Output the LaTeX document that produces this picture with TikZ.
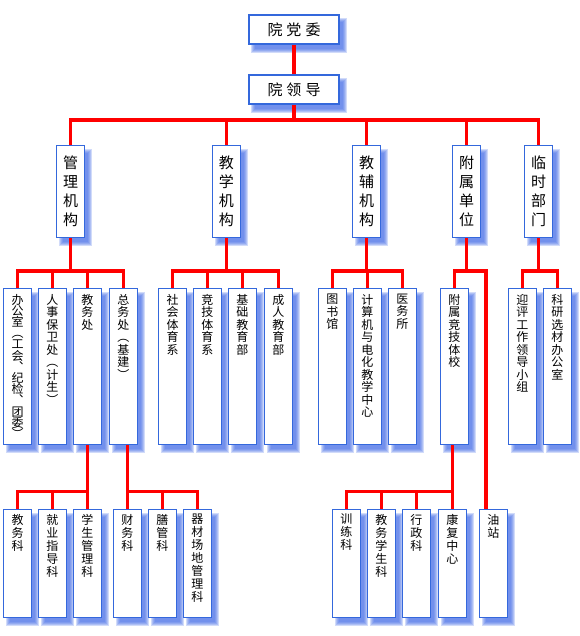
\documentclass[tikz,border=0pt]{standalone}
\usepackage{fontspec}
\newfontfamily\cjk{Noto Sans CJK SC}
\usetikzlibrary{calc}
\definecolor{boxblue}{RGB}{52,104,220}
\definecolor{shadowblue}{RGB}{70,110,230}
\definecolor{linered}{RGB}{255,0,0}
\pgfdeclarelayer{shadowlayer}
\pgfdeclarelayer{linelayer}
\pgfsetlayers{shadowlayer,linelayer,main}
\tikzset{
  orgbox/.style={draw=boxblue, line width=1.1pt, fill=white, inner sep=0pt, rectangle},
  toprow/.style={orgbox, minimum width=90pt, minimum height=29pt, font=\cjk\fontsize{15}{18}\selectfont},
  midcol/.style={orgbox, minimum width=27.6pt, minimum height=92pt, align=center, font=\cjk\fontsize{15}{18.7}\selectfont},
  lowcol/.style={orgbox, minimum width=28pt, minimum height=155.7pt},
  botcol/.style={orgbox, minimum width=28pt, minimum height=108pt},
  coltext/.style={anchor=north, inner sep=0pt, align=center, font=\cjk\fontsize{12}{12.5}\selectfont},
  tighttext/.style={coltext, font=\cjk\fontsize{12}{11.2}\selectfont},
  bottext/.style={coltext, font=\cjk\fontsize{12}{13}\selectfont},
  conn/.style={draw=linered, line width=3.6pt},
}
\begin{document}
\begin{tikzpicture}[x=1pt,y=-1pt]
\useasboundingbox (0,0) rectangle (579,636);

% level 0
\node[toprow] (dw) at (294,29.5) {院\hspace{4pt}党\hspace{4pt}委};
\node[toprow] (ld) at (294,89.5) {院\hspace{4pt}领\hspace{4pt}导};

% level 1
\node[midcol] (gl) at (70.5,191.3) {管\\理\\机\\构};
\node[midcol] (jx) at (226.3,191.3) {教\\学\\机\\构};
\node[midcol] (jf) at (366.5,191.3) {教\\辅\\机\\构};
\node[midcol] (fs) at (466.5,191.3) {附\\属\\单\\位};
\node[midcol] (ls) at (538.5,191.3) {临\\时\\部\\门};

% level 2
\node[lowcol] (a1) at (17.5,366.2) {};
\node[lowcol] (a2) at (52.3,366.2) {};
\node[lowcol] (a3) at (87.3,366.2) {};
\node[lowcol] (a4) at (123.3,366.2) {};
\node[lowcol] (b1) at (172.5,366.2) {};
\node[lowcol] (b2) at (207.3,366.2) {};
\node[lowcol] (b3) at (242.3,366.2) {};
\node[lowcol] (b4) at (278.3,366.2) {};
\node[lowcol] (c1) at (332.3,366.2) {};
\node[lowcol] (c2) at (367.3,366.2) {};
\node[lowcol] (c3) at (402.3,366.2) {};
\node[lowcol] (d1) at (454.3,366.2) {};
\node[lowcol] (e1) at (522.3,366.2) {};
\node[lowcol] (e2) at (557.3,366.2) {};

\node[tighttext] (ta1) at ($(a1.north)+(0,6)$) {办\\公\\室\\︵\\工\\会\\︑\\纪\\检\\︑\\团\\委\\︶};
\node[coltext] (ta2) at ($(a2.north)+(0,6)$) {人\\事\\保\\卫\\处\\︵\\计\\生\\︶};
\node[coltext] (ta3) at ($(a3.north)+(0,6)$) {教\\务\\处};
\node[coltext] (ta4) at ($(a4.north)+(0,6)$) {总\\务\\处\\︵\\基\\建\\︶};
\node[coltext] (tb1) at ($(b1.north)+(0,6)$) {社\\会\\体\\育\\系};
\node[coltext] (tb2) at ($(b2.north)+(0,6)$) {竞\\技\\体\\育\\系};
\node[coltext] (tb3) at ($(b3.north)+(0,6)$) {基\\础\\教\\育\\部};
\node[coltext] (tb4) at ($(b4.north)+(0,6)$) {成\\人\\教\\育\\部};
\node[coltext] (tc1) at ($(c1.north)+(0,6)$) {图\\书\\馆};
\node[coltext] (tc2) at ($(c2.north)+(0,6)$) {计\\算\\机\\与\\电\\化\\教\\学\\中\\心};
\node[coltext] (tc3) at ($(c3.north)+(0,6)$) {医\\务\\所};
\node[coltext] (td1) at ($(d1.north)+(0,6)$) {附\\属\\竞\\技\\体\\校};
\node[coltext] (te1) at ($(e1.north)+(0,6)$) {迎\\评\\工\\作\\领\\导\\小\\组};
\node[coltext] (te2) at ($(e2.north)+(0,6)$) {科\\研\\选\\材\\办\\公\\室};

% level 3
\node[botcol] (f1) at (17.5,563.3) {};
\node[botcol] (f2) at (52.3,563.3) {};
\node[botcol] (f3) at (87.3,563.3) {};
\node[botcol] (g1) at (127.3,563.3) {};
\node[botcol] (g2) at (162.3,563.3) {};
\node[botcol] (g3) at (197.3,563.3) {};
\node[botcol] (h1) at (346.3,563.3) {};
\node[botcol] (h2) at (381.3,563.3) {};
\node[botcol] (h3) at (416.3,563.3) {};
\node[botcol] (h4) at (452.3,563.3) {};
\node[botcol] (oil) at (493.3,563.3) {};

\node[bottext] (tf1) at ($(f1.north)+(0,5)$) {教\\务\\科};
\node[bottext] (tf2) at ($(f2.north)+(0,5)$) {就\\业\\指\\导\\科};
\node[bottext] (tf3) at ($(f3.north)+(0,5)$) {学\\生\\管\\理\\科};
\node[bottext] (tg1) at ($(g1.north)+(0,5)$) {财\\务\\科};
\node[bottext] (tg2) at ($(g2.north)+(0,5)$) {膳\\管\\科};
\node[bottext] (tg3) at ($(g3.north)+(0,5)$) {器\\材\\场\\地\\管\\理\\科};
\node[bottext] (th1) at ($(h1.north)+(0,5)$) {训\\练\\科};
\node[bottext] (th2) at ($(h2.north)+(0,5)$) {教\\务\\学\\生\\科};
\node[bottext] (th3) at ($(h3.north)+(0,5)$) {行\\政\\科};
\node[bottext] (th4) at ($(h4.north)+(0,5)$) {康\\复\\中\\心};
\node[bottext] (toil) at ($(oil.north)+(0,5)$) {油\\站};

% shadows
\begin{pgfonlayer}{shadowlayer}
\foreach \n in {dw,ld,gl,jx,jf,fs,ls,a1,a2,a3,a4,b1,b2,b3,b4,c1,c2,c3,d1,e1,e2,f1,f2,f3,g1,g2,g3,h1,h2,h3,h4,oil}{
  \foreach \p/\q/\r/\t in {3/4/7/8,4/5/6/7,5/6/5/6,6/7/4/5,7/8/3/4}{
    \fill[shadowblue, opacity=0.25] ($(\n.north west)+(\p,\q)$) rectangle ($(\n.south east)+(\r,\t)$);
  }
}
\end{pgfonlayer}

% connectors
\begin{pgfonlayer}{linelayer}
\draw[conn] (dw.south) -- (ld.south);
\coordinate (j0) at ($(ld.south)+(0,15.7)$);
\draw[conn] (ld.south) -- (j0);
\draw[conn] (gl.north) |- (j0) -| (ls.north);
\draw[conn] (jx.north) -- (jx.north |- j0);
\draw[conn] (jf.north) -- (jf.north |- j0);
\draw[conn] (fs.north) -- (fs.north |- j0);

\coordinate (j1) at ($(gl.south)+(0,33.4)$);
\draw[conn] (gl.south) -- (j1);
\draw[conn] (a1.north) |- (j1) -| (a4.north);
\draw[conn] (a2.north) -- (a2.north |- j1);
\draw[conn] (a3.north) -- (a3.north |- j1);

\coordinate (j2) at ($(jx.south)+(0,33.4)$);
\draw[conn] (jx.south) -- (j2);
\draw[conn] (b1.north) |- (j2) -| (b4.north);
\draw[conn] (b2.north) -- (b2.north |- j2);
\draw[conn] (b3.north) -- (b3.north |- j2);

\coordinate (j3) at ($(jf.south)+(0,33.4)$);
\draw[conn] (jf.south) -- (j3);
\draw[conn] (c1.north) |- (j3) -| (c3.north);
\draw[conn] (c2.north) -- (c2.north |- j3);

\coordinate (j4) at ($(fs.south)+(0,33.4)$);
\coordinate (oiltop) at ($(oil.north west)!0.25!(oil.north east)$);
\draw[conn] (fs.south) -- (j4);
\draw[conn] (d1.north) |- (j4) -| (oiltop);

\coordinate (j5) at ($(ls.south)+(0,33.4)$);
\draw[conn] (ls.south) -- (j5);
\draw[conn] (e1.north) |- (j5) -| (e2.north);

\coordinate (j6) at ($(a3.south)+(0,47)$);
\draw[conn] (a3.south) -- (f3.north);
\draw[conn] (f1.north) |- (j6);
\draw[conn] (f2.north) -- (f2.north |- j6);

\coordinate (j7) at ($(a4.south -| g1.north)+(0,47)$);
\draw[conn] (a4.south -| g1.north) -- (g1.north);
\draw[conn] (g3.north) |- (j7);
\draw[conn] (g2.north) -- (g2.north |- j7);

\coordinate (j8) at ($(d1.south -| h4.north)+(0,47)$);
\draw[conn] (d1.south -| h4.north) -- (h4.north);
\draw[conn] (h1.north) |- (j8);
\draw[conn] (h2.north) -- (h2.north |- j8);
\draw[conn] (h3.north) -- (h3.north |- j8);
\end{pgfonlayer}
\end{tikzpicture}
\end{document}
